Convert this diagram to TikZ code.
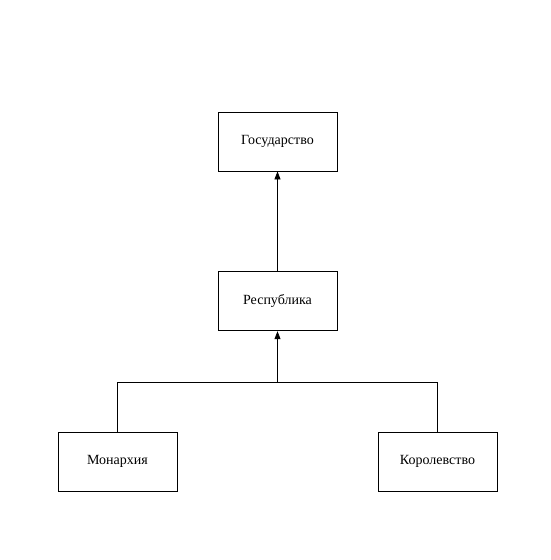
\documentclass[tikz,border=0pt]{standalone}
\usepackage{fontspec}
\setmainfont{Liberation Serif}
\usetikzlibrary{positioning,calc,arrows.meta}
\tikzset{cls/.style={draw, thick, minimum width=119pt, minimum height=59pt, inner sep=0pt, font=\fontsize{14}{16}\selectfont}}
\tikzset{arr/.style={draw, thick, -{Triangle[length=8pt,width=6pt]}}}
\tikzset{ln/.style={draw, thick}}

\begin{document}
\begin{tikzpicture}[x=1pt,y=1pt]
		\useasboundingbox (0,0) rectangle (550,-560);
		\node[cls] (G) at (277.5,-141.5) {Государство};
		\node[cls,below=100pt of G] (R) {Республика};
		\node[cls] (M) at (117.5,-461.5) {Монархия};
		\node[cls] (K) at (437.5,-461.5) {Королевство};
		\coordinate (J) at ($(R.south)+(0,-51pt)$);
		\draw[arr] (R) -- (G);
		\draw[ln] (M.north) |- (J) -| (K.north);
		\draw[arr] (J) -- (R);
	\end{tikzpicture}
\end{document}
